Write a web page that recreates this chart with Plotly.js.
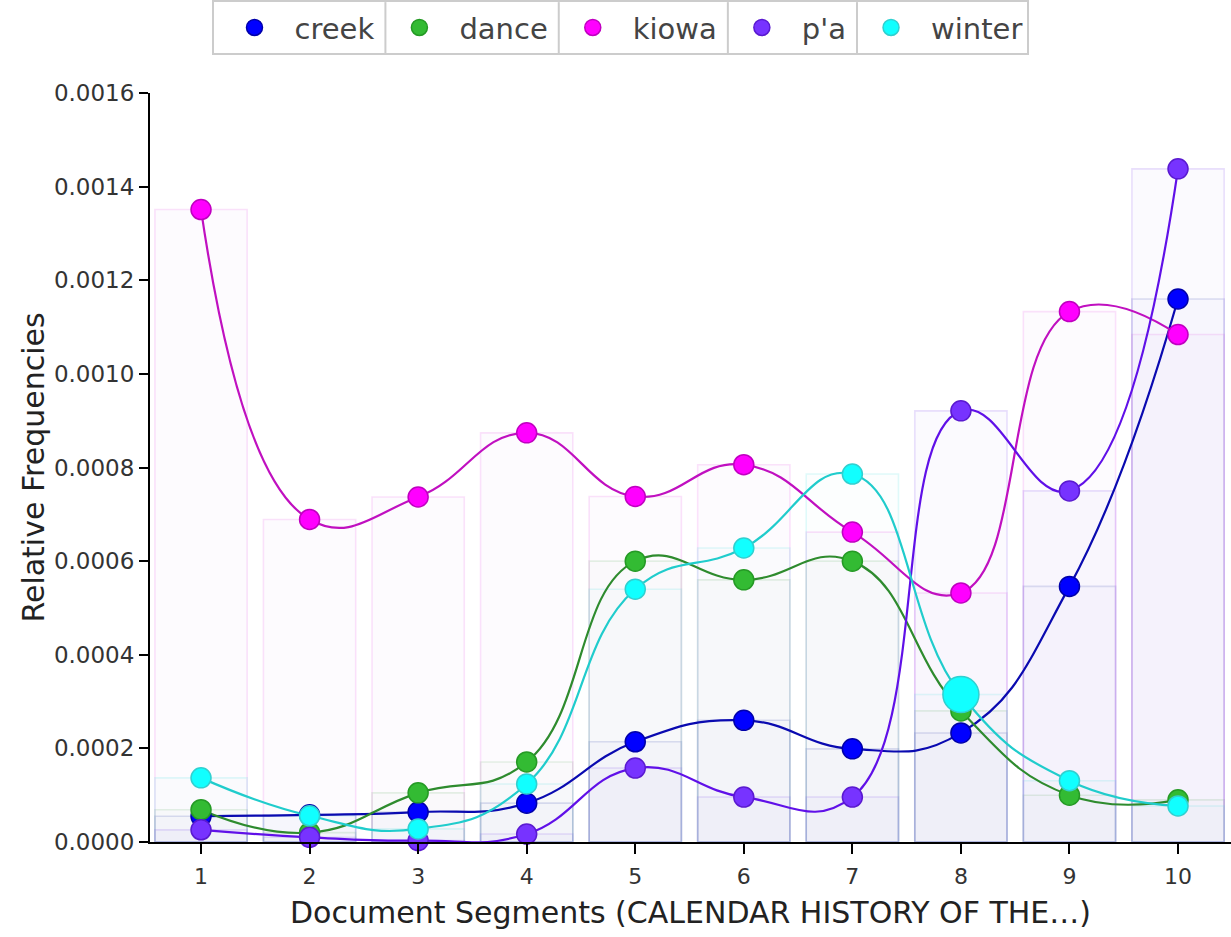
<!DOCTYPE html>
<html>
<head>
<meta charset="utf-8">
<script src="https://cdn.plot.ly/plotly-3.0.1.min.js"></script>
<style>
  html, body { margin: 0; padding: 0; background: #fff; }
  #chart { width: 1231px; height: 937px; }
</style>
</head>
<body>
<div id="chart"></div>
<script>
// ---- data ----
var segments = [1, 2, 3, 4, 5, 6, 7, 8, 9, 10];
var seriesNames = ["creek", "dance", "kiowa", "p'a", "winter"];
var creek  = [0.000055, 0.000058, 0.000064, 0.000083, 0.000214, 0.000260, 0.000199, 0.000233, 0.000546, 0.001160];
var dance  = [0.000069, 0.000020, 0.000105, 0.000171, 0.000600, 0.000560, 0.000600, 0.000280, 0.000100, 0.000090];
var kiowa  = [0.001351, 0.000689, 0.000737, 0.000874, 0.000738, 0.000806, 0.000662, 0.000532, 0.001133, 0.001084];
var pa     = [0.000026, 0.000010, 0.000003, 0.000017, 0.000158, 0.000096, 0.000096, 0.000921, 0.000750, 0.001438];
var winter = [0.000137, 0.000056, 0.000028, 0.000124, 0.000540, 0.000628, 0.000786, 0.000315, 0.000131, 0.000077];
var yTickVals = [0, 0.0002, 0.0004, 0.0006, 0.0008, 0.0010, 0.0012, 0.0014, 0.0016];

var values = [creek, dance, kiowa, pa, winter];
var markerColors = ["#0000ff", "#33bb33", "#ff00ff", "#7733ff", "#11ffff"];
var lineColors   = ["#0a0ab0", "#2e8b2e", "#c010c0", "#6010e8", "#20cccc"];
var edgeColors   = ["#0000aa", "#259a25", "#c000c0", "#5a1ad0", "#30d0d0"];
var barFill      = ["rgba(90,90,200,0.025)", "rgba(110,150,120,0.02)", "rgba(200,120,230,0.03)", "rgba(130,110,230,0.03)", "rgba(100,190,200,0.02)"];
var barEdge      = ["rgba(60,80,180,0.17)", "rgba(60,160,60,0.13)", "rgba(230,80,230,0.16)", "rgba(130,80,240,0.17)", "rgba(40,220,220,0.14)"];
var highlightIndex = 7; // enlarged (hovered) winter point at segment 8

var FONT = "DejaVu Sans, Verdana, sans-serif";
var W = 1231, H = 937, M = { l: 150, r: 0, t: 93, b: 95 };
var traces = [];

// bars
values.forEach(function (vals, k) {
  traces.push({
    type: "bar", x: segments, y: vals, width: 0.85,
    marker: { color: barFill[k], line: { color: barEdge[k], width: 1.6 } },
    showlegend: false, hoverinfo: "skip"
  });
});
// smooth lines
values.forEach(function (vals, k) {
  traces.push({
    type: "scatter", mode: "lines", x: segments, y: vals,
    line: { color: lineColors[k], width: 2.2, shape: "spline", smoothing: 1.3 },
    showlegend: false, hoverinfo: "skip"
  });
});
// markers
values.forEach(function (vals, k) {
  var sizes = vals.map(function (v, i) { return (k === 4 && i === highlightIndex) ? 36 : 20; });
  traces.push({
    type: "scatter", mode: "markers", name: seriesNames[k], x: segments, y: vals,
    marker: { color: markerColors[k], opacity: 1, size: sizes, line: { color: edgeColors[k], width: 1.5 } },
    cliponaxis: false
  });
});

var layout = {
  width: W, height: H,
  margin: M,
  paper_bgcolor: "#fff", plot_bgcolor: "#fff",
  barmode: "overlay", bargap: 0,
  font: { family: FONT, color: "#333" },
  showlegend: true,
  legend: {
    orientation: "h", x: 0.4357, xanchor: "center", y: 1.124, yanchor: "top",
    bgcolor: "rgba(255,255,255,0)", bordercolor: "#cccccc", borderwidth: 2,
    font: { family: FONT, size: 29, color: "#444" },
    itemwidth: 70, itemsizing: "trace"
  },
  xaxis: {
    range: [0.53, 10.488], tickvals: segments, ticktext: segments.map(String),
    showgrid: false, zeroline: false, showline: true, linecolor: "#000", linewidth: 2,
    ticks: "outside", ticklen: 10, tickwidth: 2, tickcolor: "#000",
    tickfont: { size: 22, color: "#333" }, ticklabelstandoff: 4,
    title: { text: "Document Segments (CALENDAR HISTORY OF THE\u2026)", font: { size: 30, color: "#222" }, standoff: 14 }
  },
  yaxis: {
    range: [0, 0.0016], tickvals: yTickVals, tickformat: ".4f",
    showgrid: false, zeroline: false, showline: true, linecolor: "#000", linewidth: 2,
    ticks: "outside", ticklen: 9, tickwidth: 2, tickcolor: "#000",
    tickfont: { size: 23, color: "#333" },
    title: { text: "Relative Frequencies", font: { size: 30, color: "#222" }, standoff: 0 }
  }
};

Plotly.newPlot("chart", traces, layout, { displayModeBar: false, staticPlot: true }).then(function (gd) {
  // separators between legend entries, placed from the rendered legend symbols
  var root = gd.getBoundingClientRect();
  var bg = gd.querySelector(".legend .bg");
  var pts = gd.querySelectorAll(".legend .traces .legendpoints");
  if (!bg || pts.length < 2) return;
  var b = bg.getBoundingClientRect();
  var plotW = W - M.l - M.r, plotH = H - M.t - M.b;
  var toPx = function (px) { return (px - root.left - M.l) / plotW; };
  var toPy = function (py) { return (H - M.b - (py - root.top)) / plotH; };
  var shapes = [];
  for (var i = 1; i < pts.length; i++) {
    var r = pts[i].getBoundingClientRect();
    var cx = r.left + r.width / 2 - 34;
    shapes.push({
      type: "line", xref: "paper", yref: "paper", layer: "above",
      x0: toPx(cx), x1: toPx(cx), y0: toPy(b.bottom - 1), y1: toPy(b.top + 1),
      line: { color: "#cccccc", width: 2 }
    });
  }
  return Plotly.relayout(gd, { shapes: shapes });
});
</script>
</body>
</html>
